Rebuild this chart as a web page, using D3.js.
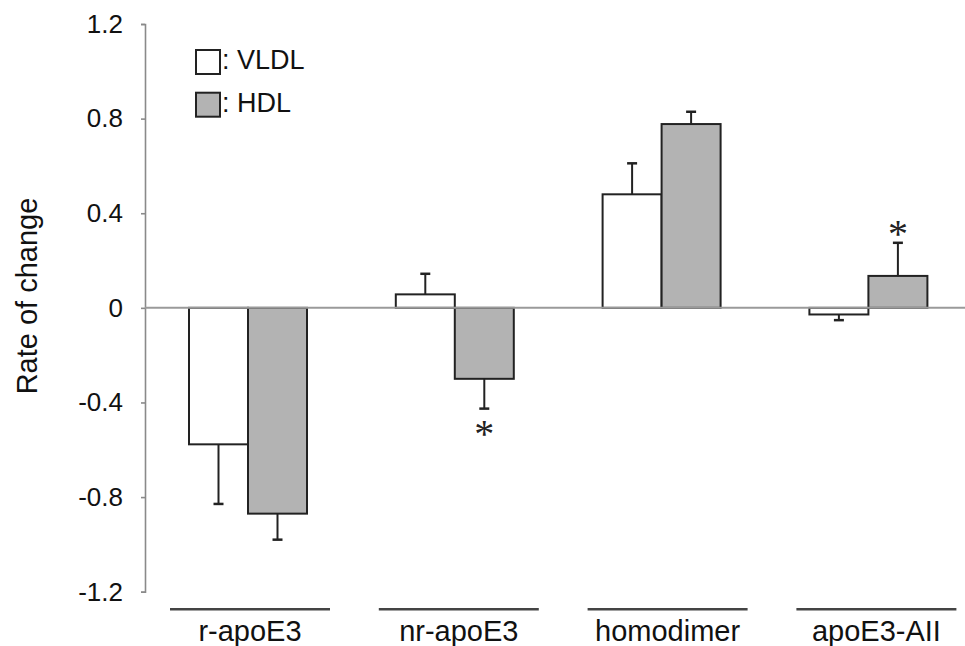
<!DOCTYPE html>
<html>
<head>
<meta charset="utf-8">
<script src="https://cdn.jsdelivr.net/npm/d3@7"></script>
<style>
  body { margin: 0; background: #fff; }
  text { font-family: Arial, "Liberation Sans", sans-serif; fill: #111; }
</style>
</head>
<body>
<div id="chart"></div>
<script>
var categories = ["r-apoE3", "nr-apoE3", "homodimer", "apoE3-AII"];
var series = ["VLDL", "HDL"];
var vldlValues = [-0.577, 0.057, 0.48, -0.028];
var vldlErrors = [0.252, 0.087, 0.131, 0.024];
var hdlValues = [-0.87, -0.30, 0.777, 0.135];
var hdlErrors = [0.11, 0.126, 0.052, 0.14];
var hdlSignificant = [false, true, false, true];
var yTicks = [1.2, 0.8, 0.4, 0, -0.4, -0.8, -1.2];

var width = 965, height = 646;
var fills = { VLDL: "#ffffff", HDL: "#b3b3b3" };

var svg = d3.select("#chart").append("svg")
    .attr("width", width)
    .attr("height", height);

var y = d3.scaleLinear().domain([-1.2, 1.2]).range([591.7, 24]);

var x = d3.scaleBand().domain(categories).range([144.6, 971.8]).padding(0);

var barW = 59;
var x1 = d3.scaleBand().domain(series)
    .range([x.bandwidth() / 2 - barW, x.bandwidth() / 2 + barW]);

var rows = [];
categories.forEach(function(c, i) {
  rows.push({ cat: c, s: "VLDL", v: vldlValues[i], e: vldlErrors[i], sig: false });
  rows.push({ cat: c, s: "HDL", v: hdlValues[i], e: hdlErrors[i], sig: hdlSignificant[i] });
});

// y axis, plain hyphen for negatives as in the figure
var yAxis = d3.axisLeft(y)
    .tickValues(yTicks)
    .tickSize(4)
    .tickPadding(18)
    .tickFormat(function(d) { return d === 0 ? "0" : d.toFixed(1); });

var ag = svg.append("g")
    .attr("transform", "translate(145,0)")
    .call(yAxis);
ag.select(".domain").attr("stroke", "#8a8a8a").attr("stroke-width", 1.6);
ag.selectAll(".tick line").attr("stroke", "#8a8a8a").attr("stroke-width", 1.6);
ag.selectAll(".tick text")
    .style("font-size", "26px")
    .attr("fill", "#111");

svg.append("text")
    .attr("transform", "translate(37," + y(0.05) + ") rotate(-90)")
    .attr("text-anchor", "middle")
    .style("font-size", "29px")
    .text("Rate of change");

// bars
var graph = svg.append("g");

graph.selectAll("rect.bar")
    .data(rows)
    .enter().append("rect")
    .attr("class", "bar")
    .attr("x", function(d) { return x(d.cat) + x1(d.s); })
    .attr("width", x1.bandwidth())
    .attr("y", function(d) { return Math.min(y(d.v), y(0)); })
    .attr("height", function(d) { return Math.abs(y(d.v) - y(0)); })
    .style("fill", function(d) { return fills[d.s]; })
    .style("stroke", "#222")
    .style("stroke-width", 2);

// zero line
svg.append("line")
    .attr("x1", 145).attr("x2", width)
    .attr("y1", y(0)).attr("y2", y(0))
    .attr("stroke", "#9a9a9a")
    .attr("stroke-width", 2);

// error bars (one-sided, away from zero)
function errEnd(d) { return d.v < 0 ? d.v - d.e : d.v + d.e; }
function cx(d) { return x(d.cat) + x1(d.s) + x1.bandwidth() / 2; }

var eg = graph.selectAll("g.err")
    .data(rows)
    .enter().append("g")
    .attr("class", "err");

eg.append("line")
    .attr("x1", cx).attr("x2", cx)
    .attr("y1", function(d) { return y(d.v); })
    .attr("y2", function(d) { return y(errEnd(d)); })
    .attr("stroke", "#222").attr("stroke-width", 2);

eg.append("line")
    .attr("x1", function(d) { return cx(d) - 5; })
    .attr("x2", function(d) { return cx(d) + 5; })
    .attr("y1", function(d) { return y(errEnd(d)); })
    .attr("y2", function(d) { return y(errEnd(d)); })
    .attr("stroke", "#222").attr("stroke-width", 2.5);

// significance marks
graph.selectAll("text.sig")
    .data(rows.filter(function(d) { return d.sig; }))
    .enter().append("text")
    .attr("class", "sig")
    .attr("x", cx)
    .attr("y", function(d) {
      var e = y(errEnd(d));
      return d.v < 0 ? e + 38 : e + 4;
    })
    .attr("text-anchor", "middle")
    .style("font-family", "'Liberation Serif', 'DejaVu Serif', serif")
    .style("font-size", "40px")
    .style("fill", "#222")
    .text("*");

// category underlines and labels
var cg = svg.selectAll("g.cat")
    .data(categories)
    .enter().append("g")
    .attr("class", "cat")
    .attr("transform", function(d, i) { return "translate(" + (x(d) + x.bandwidth() / 2 + 2 + i * 2) + ",0)"; });

cg.append("line")
    .attr("x1", -80).attr("x2", 80)
    .attr("y1", 609.3).attr("y2", 609.3)
    .attr("stroke", "#444")
    .attr("stroke-width", 2.5);

cg.append("text")
    .attr("y", 641)
    .attr("text-anchor", "middle")
    .style("font-size", "29px")
    .text(function(d) { return d; });

// legend
var legend = svg.append("g").attr("class", "legend");

legend.selectAll("g")
    .data(series)
    .enter().append("g")
    .each(function(d, i) {
      var g = d3.select(this);
      g.append("rect")
        .attr("x", 196)
        .attr("y", 50 + i * 42.7)
        .attr("width", 24)
        .attr("height", 24)
        .style("fill", fills[d])
        .style("stroke", "#222")
        .style("stroke-width", 2);

      g.append("text")
        .attr("x", 222)
        .attr("y", 69 + i * 42.7)
        .style("font-size", "27px")
        .text(": " + d);
    });
</script>
</body>
</html>
